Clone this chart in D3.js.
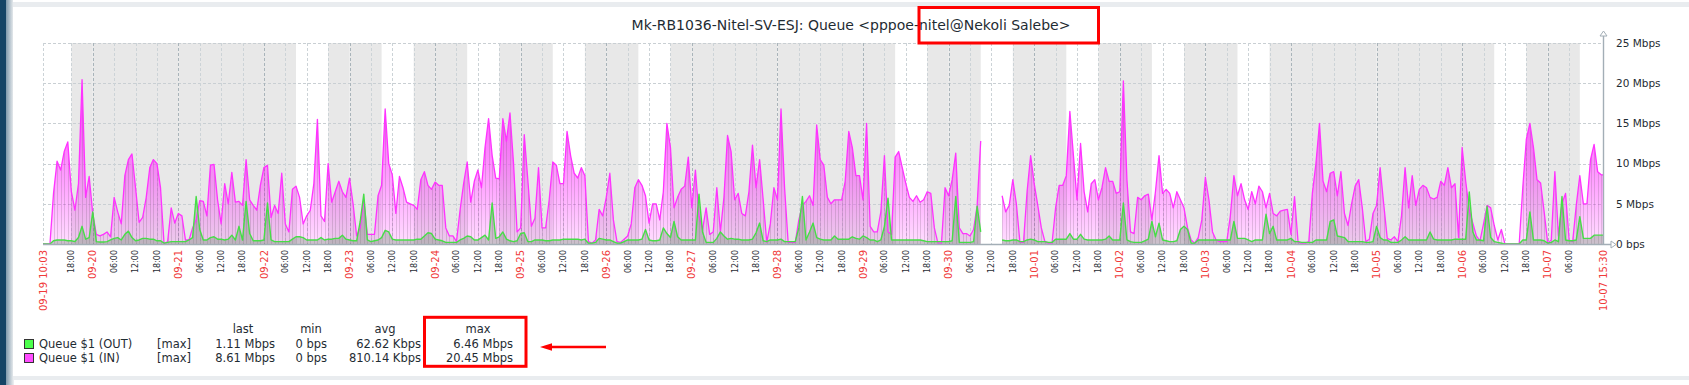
<!DOCTYPE html>
<html>
<head>
<meta charset="utf-8">
<script src="https://cdn.jsdelivr.net/npm/d3@7"></script>
<style>
  body { margin: 0; background: #e9ecef; }
  svg { display: block; font-family: 'DejaVu Sans', sans-serif; }
</style>
</head>
<body>
<svg id="chart" width="1689" height="385"></svg>
<script>
const chartTitle = 'Mk-RB1036-Nitel-SV-ESJ: Queue <pppoe-nitel@Nekoli Salebe>'
const startTime = '2025-09-19 10:03'
const endTime = '2025-10-07 15:30'
// one sample per hour from here on
const firstSample = '2025-09-19 10:00'

// Queue $1 (IN), Mbps, hourly
const inMbps = [
  0, 0, 0, 6.3, 10.3, 9.2, 11.5, 12.7, 6.5, 4.2,
  7.5, 20.45, 5.8, 8.4, 3.8, 1.2, 1.0, 1.2, 1.5, 0.9,
  5.8, 4.0, 2.5, 8.5, 10.5, 11.2, 7.0, 2.7, 3.3, 5.8,
  9.5, 10.5, 10.0, 7.0, 0.0, 0.3, 4.5, 2.6, 3.8, 3.5,
  0.5, 0.5, 2.0, 3.0, 5.4, 5.3, 3.5, 9.8, 9.9, 5.5,
  2.5, 7.5, 5.0, 8.9, 5.2, 5.3, 4.8, 10.5, 5.5, 4.8,
  4.2, 7.3, 9.5, 9.8, 3.3, 4.8, 3.8, 8.8, 2.5, 1.5,
  6.8, 7.2, 5.8, 2.5, 3.5, 4.2, 7.5, 15.5, 3.5, 2.8,
  10.0, 5.2, 6.5, 7.8, 6.5, 5.8, 8.2, 5.0, 1.0, 2.0,
  5.5, 1.2, 1.2, 1.2, 6.0, 7.3, 16.8, 10.0, 8.6, 3.8,
  8.4, 7.0, 5.2, 5.0, 4.8, 4.3, 8.0, 9.0, 7.3, 6.8,
  7.7, 7.3, 7.3, 2.0, 1.0, 1.0, 0.3, 4.2, 7.5, 10.2,
  5.2, 7.8, 9.2, 7.0, 12.0, 15.6, 11.0, 8.2, 8.1, 15.6,
  12.8, 16.3, 10.0, 1.5, 2.0, 13.6, 8.0, 2.2, 3.2, 9.5,
  2.0, 2.0, 5.5, 10.2, 9.8, 7.5, 7.5, 14.0, 11.0, 8.8,
  8.2, 9.5, 8.5, 0.3, 0.1, 0.5, 4.3, 3.5, 5.8, 8.8,
  3.0, 0.3, 0.2, 0.6, 1.0, 2.5, 7.0, 8.0, 7.3, 6.0,
  2.6, 5.0, 5.0, 3.0, 6.5, 15.0, 12.0, 4.5, 5.8, 6.8,
  7.2, 10.8, 4.5, 9.2, 3.5, 1.8, 4.5, 1.2, 1.5, 7.0,
  1.5, 5.8, 13.5, 11.5, 5.5, 6.3, 3.8, 3.5, 6.5, 12.3,
  7.0, 10.5, 5.5, 0.2, 2.5, 7.0, 5.5, 16.8, 7.0, 0.2,
  0.2, 0.2, 3.0, 4.8, 5.3, 6.0, 4.8, 14.8, 10.5, 9.8,
  5.8, 5.0, 5.5, 5.5, 5.5, 7.8, 14.0, 12.0, 8.5, 8.5,
  5.5, 15.0, 2.2, 1.5, 1.5, 4.0, 11.0, 1.5, 1.2, 10.8,
  11.5, 9.5, 7.5, 5.8, 5.3, 6.0, 5.2, 5.5, 6.5, 6.3,
  2.0, 0.1, 0.1, 7.0, 6.0, 8.0, 11.3, 2.0, 1.3, 1.3,
  1.0, 1.8, 4.8, 12.8, null, null, null, null, null, 6.0,
  4.0, 4.8, 8.0, 5.0, 0.2, 0.2, 6.5, 11.0, 7.5, 4.8,
  2.0, 0.3, 0.1, 0.1, 4.5, 7.3, 7.3, 8.5, 16.5, 11.0,
  5.5, 12.5, 6.5, 4.0, 7.5, 8.0, 5.5, 7.0, 9.5, 7.8,
  7.8, 6.3, 6.5, 20.3, 8.0, 1.5, 1.3, 5.8, 5.5, 6.0,
  6.2, 3.0, 6.5, 11.0, 6.3, 6.8, 6.3, 4.5, 6.5, 5.5,
  4.5, 2.0, 0.5, 0.1, 0.8, 3.0, 8.3, 5.5, 1.5, 0.5,
  0.3, 0.3, 0.3, 3.5, 8.5, 6.0, 7.5, 5.5, 4.3, 6.5,
  5.0, 7.2, 6.5, 4.5, 6.3, 3.8, 3.5, 4.1, 4.2, 4.3,
  1.2, 5.9, 0.2, 0.1, 0.1, 0.3, 6.3, 10.0, 15.0, 7.8,
  6.5, 8.8, 9.0, 6.0, 9.0, 3.8, 2.3, 5.0, 7.2, 8.0,
  4.5, 0.3, 0.6, 3.8, 4.8, 9.5, 5.0, 0.7, 0.5, 0.9,
  0.3, 3.5, 9.5, 4.5, 8.5, 4.8, 6.8, 7.3, 7.0, 5.8,
  5.6, 5.8, 7.8, 7.3, 9.5, 7.0, 7.5, 0.8, 12.0, 7.8,
  4.2, 2.6, 1.0, 0.4, 2.5, 4.8, 4.5, 2.3, 0.5, 1.8,
  0, 0, 0, 0, 0, 7.0, 13.0, 15.0, 12.0, 8.0,
  7.6, 4.0, 0.1, 0.5, 9.0, 1.0, 5.0, 6.3, 0.5, 0.3,
  4.8, 8.5, 5.0, 5.0, 10.5, 12.4, 9.0, 8.61,
]

// Queue $1 (OUT), Mbps, hourly
const outMbps = [
  0, 0, 0, 0.4, 0.5, 0.5, 0.5, 0.4, 0.4, 0.3,
  0.8, 2.2, 0.6, 0.8, 4.0, 0.3, 0.25, 0.25, 0.3, 0.5,
  0.7, 0.8, 0.5, 1.2, 1.6, 0.8, 0.4, 0.5, 0.7, 0.7,
  0.6, 0.6, 0.4, 0.4, 0.1, 0.2, 0.3, 0.3, 0.3, 0.3,
  0.3, 0.5, 0.8, 5.9, 1.8, 0.5, 0.5, 0.8, 0.9, 0.6,
  0.6, 0.5, 0.6, 1.1, 0.5, 2.2, 0.5, 5.3, 1.3, 0.4,
  0.4, 0.4, 0.5, 5.1, 0.5, 0.3, 0.3, 0.3, 0.3, 0.3,
  0.6, 0.9, 0.9, 0.8, 0.5, 0.5, 0.5, 0.5, 0.8, 0.5,
  0.6, 0.6, 0.7, 0.7, 1.1, 0.6, 0.5, 0.4, 0.4, 2.8,
  6.2, 0.5, 0.3, 0.4, 0.5, 0.8, 1.7, 1.5, 0.6, 0.5,
  0.5, 0.5, 0.5, 0.5, 0.5, 0.6, 0.6, 1.0, 1.4, 1.3,
  0.6, 0.5, 0.4, 0.2, 0.2, 0.2, 0.2, 0.5, 0.7, 1.0,
  0.9, 0.5, 0.5, 0.8, 1.1, 0.5, 5.1, 0.7, 0.9, 1.5,
  0.6, 0.4, 0.3, 0.4, 1.3, 1.4, 0.3, 0.3, 0.5, 0.5,
  0.5, 0.4, 0.4, 0.5, 0.5, 0.5, 0.6, 0.6, 0.6, 0.6,
  0.6, 0.5, 0.6, 0.1, 0.1, 0.2, 0.7, 0.6, 0.5, 0.5,
  0.3, 0.1, 0.1, 0.3, 0.5, 0.5, 0.5, 0.5, 0.6, 1.8,
  0.5, 0.4, 0.4, 0.5, 2.0, 1.3, 0.8, 2.8, 0.9, 0.5,
  0.5, 0.5, 0.5, 0.5, 6.2, 1.5, 0.2, 0.2, 0.2, 0.7,
  1.5, 1.0, 0.6, 0.7, 0.6, 0.6, 0.5, 0.5, 0.5, 0.6,
  1.4, 2.6, 0.4, 0.3, 0.5, 0.5, 0.5, 0.6, 0.3, 0.3,
  0.3, 0.3, 2.0, 5.9, 0.5, 1.5, 2.6, 0.8, 0.6, 0.5,
  0.5, 0.5, 1.0, 0.6, 0.6, 0.6, 0.6, 0.9, 0.7, 0.6,
  1.0, 0.8, 0.5, 0.5, 0.3, 0.5, 2.2, 5.7, 0.5, 0.5,
  0.5, 0.5, 0.5, 0.5, 0.5, 0.5, 0.5, 0.4, 0.3, 0.3,
  0.3, 0.3, 0.3, 0.3, 0.3, 0.4, 5.9, 0.2, 0.2, 0.2,
  0.2, 0.3, 4.7, 1.5, null, null, null, null, null, 0.5,
  0.4, 0.4, 0.5, 0.5, 0.3, 0.3, 0.5, 0.6, 0.5, 0.3,
  0.3, 0.3, 0.2, 0.2, 0.6, 0.6, 0.6, 0.6, 1.3, 0.6,
  0.6, 1.2, 0.6, 0.5, 0.5, 0.5, 0.5, 0.5, 0.6, 1.0,
  0.5, 0.5, 0.5, 5.1, 0.5, 0.3, 0.2, 0.2, 0.2, 0.4,
  0.6, 2.8, 0.9, 2.6, 0.5, 0.4, 0.3, 0.3, 0.4, 1.8,
  2.2, 1.8, 0.1, 0.1, 0.5, 0.5, 0.5, 0.5, 0.5, 0.5,
  0.5, 0.5, 0.5, 0.5, 2.8, 0.7, 0.7, 0.7, 0.5, 0.3,
  0.5, 0.5, 0.5, 3.7, 1.3, 2.2, 0.5, 0.5, 0.5, 0.5,
  0.7, 0.3, 0.3, 0.2, 0.2, 0.2, 0.2, 0.5, 0.5, 0.5,
  0.5, 2.8, 3.0, 1.0, 0.9, 0.8, 0.3, 0.3, 0.3, 0.3,
  0.3, 0.2, 0.2, 0.3, 2.2, 0.8, 0.5, 0.5, 0.2, 0.2,
  0.2, 0.5, 0.9, 0.5, 0.5, 0.5, 0.5, 0.5, 0.5, 1.5,
  0.6, 0.5, 0.5, 0.5, 0.5, 0.5, 0.6, 0.6, 0.6, 0.6,
  6.46, 1.5, 0.5, 0.5, 0.4, 4.7, 0.8, 0.3, 0.2, 0.1,
  0, 0, 0, 0, 0, 0.5, 0.5, 4.0, 0.5, 0.5,
  0.5, 0.4, 0.1, 0.2, 0.5, 0.3, 5.9, 0.5, 0.4, 0.4,
  0.5, 3.4, 0.7, 0.7, 0.7, 1.1, 1.1, 1.11,
]

const yTicks = [0, 5, 10, 15, 20, 25]
const yTickLabels = ['0 bps', '5 Mbps', '10 Mbps', '15 Mbps', '20 Mbps', '25 Mbps']

// working time: Mon-Fri 09:00-18:00, the rest is shaded
const workDays = [1, 2, 3, 4, 5]
const workHours = [9, 18]

const legendNames = ['Queue $1 (OUT)', 'Queue $1 (IN)']
const legendFunc = ['[max]', '[max]']
const legendLast = ['1.11 Mbps', '8.61 Mbps']
const legendMin = ['0 bps', '0 bps']
const legendAvg = ['62.62 Kbps', '810.14 Kbps']
const legendMax = ['6.46 Mbps', '20.45 Mbps']
const legendColors = ['#4cff4c', '#ff4cff']

const textColor = '#1f2c33'
const redColor = '#f03a3a'

const svg = d3.select('#chart')
const parse = d3.utcParse('%Y-%m-%d %H:%M')
const t0 = parse(startTime)
const t1 = parse(endTime)
const tFirst = parse(firstSample)

const plot = { left: 43, right: 1603, top: 43, bottom: 244 }

const x = d3.scaleUtc().domain([t0, t1]).range([plot.left, plot.right])
const y = d3.scaleLinear().domain([0, 25]).range([plot.bottom, plot.top])

// page frame
svg.append('rect').attr('x', 13).attr('y', 0).attr('width', 1676).attr('height', 2).attr('fill', '#fff')
svg.append('rect').attr('x', 13).attr('y', 7).attr('width', 1676).attr('height', 369).attr('fill', '#fff')
svg.append('rect').attr('x', 14).attr('y', 380).attr('width', 1675).attr('height', 5).attr('fill', '#fff')
const defs = svg.append('defs')
const side = defs.append('linearGradient').attr('id', 'side')
side.append('stop').attr('offset', 0).attr('stop-color', '#7f99ac')
side.append('stop').attr('offset', 1).attr('stop-color', '#e4e8eb')
svg.append('rect').attr('x', 0).attr('y', 0).attr('width', 6).attr('height', 385).attr('fill', '#154466')
svg.append('rect').attr('x', 6).attr('y', 0).attr('width', 7).attr('height', 385).attr('fill', 'url(#side)')

// title
svg.append('text')
  .attr('x', 851).attr('y', 30)
  .attr('text-anchor', 'middle')
  .attr('font-size', '14px')
  .attr('fill', textColor)
  .text(chartTitle)

// non-working time shading
const shade = []
d3.utcDay.range(d3.utcDay.floor(t0), t1).forEach((day) => {
  if (workDays.includes(day.getUTCDay())) {
    shade.push([day, d3.utcHour.offset(day, workHours[0])])
    shade.push([d3.utcHour.offset(day, workHours[1]), d3.utcDay.offset(day, 1)])
  } else {
    shade.push([day, d3.utcDay.offset(day, 1)])
  }
})
svg.append('g')
  .selectAll('rect')
  .data(shade.filter((s) => s[1] > t0 && s[0] < t1))
  .enter()
  .append('rect')
  .attr('x', (d) => x(d[0] < t0 ? t0 : d[0]))
  .attr('width', (d) => x(d[1] > t1 ? t1 : d[1]) - x(d[0] < t0 ? t0 : d[0]))
  .attr('y', plot.top)
  .attr('height', plot.bottom - plot.top)
  .attr('fill', '#e8e8e8')

// grid
const xTicks = d3.utcHour.every(6).range(t0, t1)
  .filter((t) => x(t) - plot.left > 14 && plot.right - x(t) > 14)
const isDay = (t) => t.getUTCHours() === 0

const grid = svg.append('g').attr('stroke-dasharray', '3,2').attr('stroke-width', 1)
grid.selectAll('line.h')
  .data(yTicks)
  .enter()
  .append('line')
  .attr('x1', plot.left).attr('x2', plot.right)
  .attr('y1', (d) => Math.round(y(d)) + 0.5).attr('y2', (d) => Math.round(y(d)) + 0.5)
  .attr('stroke', '#c9cfd3')
grid.selectAll('line.v')
  .data([t0].concat(xTicks))
  .enter()
  .append('line')
  .attr('x1', (d) => Math.round(x(d)) + 0.5).attr('x2', (d) => Math.round(x(d)) + 0.5)
  .attr('y1', plot.top).attr('y2', plot.bottom)
  .attr('stroke', (d) => (isDay(d) ? '#a9b4ba' : '#ccd3d7'))

// series
const toPoints = (values) => {
  const pts = values.map((v, i) => ({ t: d3.utcHour.offset(tFirst, i), v: v }))
  pts.push({ t: t1, v: values[values.length - 1] })
  return pts
}
const inPoints = toPoints(inMbps)
const outPoints = toPoints(outMbps)

defs.append('clipPath').attr('id', 'plotClip')
  .append('rect')
  .attr('x', plot.left).attr('y', plot.top - 5)
  .attr('width', plot.right - plot.left).attr('height', plot.bottom - plot.top + 5)

function gradient(id, color, lo, hi) {
  const g = defs.append('linearGradient').attr('id', id)
    .attr('gradientUnits', 'userSpaceOnUse')
    .attr('x1', 0).attr('x2', 0).attr('y1', y(0)).attr('y2', y(21))
  g.append('stop').attr('offset', 0).attr('stop-color', color).attr('stop-opacity', lo)
  g.append('stop').attr('offset', 1).attr('stop-color', color).attr('stop-opacity', hi)
}
gradient('inFill', '#ff33ff', 0.16, 0.97)
gradient('outFill', '#6b8a6b', 0.35, 0.55)

const area = d3.area()
  .defined((d) => d.v != null)
  .x((d) => x(d.t))
  .y0(y(0))
  .y1((d) => y(d.v))
const line = d3.line()
  .defined((d) => d.v != null)
  .x((d) => x(d.t))
  .y((d) => y(d.v))

const data = svg.append('g').attr('clip-path', 'url(#plotClip)')

data.append('path').attr('d', area(inPoints)).attr('fill', 'url(#inFill)')

// the fine vertical seams between hourly columns
defs.append('clipPath').attr('id', 'inClip').append('path').attr('d', area(inPoints))
data.append('g')
  .attr('clip-path', 'url(#inClip)')
  .selectAll('line')
  .data(inPoints)
  .enter()
  .append('line')
  .attr('x1', (d) => Math.round(x(d.t)) + 0.5).attr('x2', (d) => Math.round(x(d.t)) + 0.5)
  .attr('y1', plot.top).attr('y2', plot.bottom)
  .attr('stroke', 'rgba(110,90,110,0.22)')

data.append('path').attr('d', area(outPoints)).attr('fill', 'url(#outFill)')

data.append('path').attr('d', line(inPoints))
  .attr('fill', 'none').attr('stroke', '#ff33ff').attr('stroke-width', 1.3)
  .attr('stroke-linejoin', 'round')
data.append('path').attr('d', line(outPoints))
  .attr('fill', 'none').attr('stroke', '#47dd47').attr('stroke-width', 1.4)
  .attr('stroke-linejoin', 'round')

// axes
const axisColor = '#a3aeb6'
svg.append('line')
  .attr('x1', plot.left).attr('x2', plot.right + 8)
  .attr('y1', plot.bottom + 0.5).attr('y2', plot.bottom + 0.5)
  .attr('stroke', axisColor).attr('stroke-width', 1.6)
svg.append('line')
  .attr('x1', plot.right + 0.5).attr('x2', plot.right + 0.5)
  .attr('y1', plot.bottom).attr('y2', plot.top - 8)
  .attr('stroke', axisColor).attr('stroke-width', 1.4)
svg.append('path')
  .attr('d', `M${plot.right + 8},${plot.bottom - 3} L${plot.right + 13},${plot.bottom + 0.5} L${plot.right + 8},${plot.bottom + 4} Z`)
  .attr('fill', '#fff').attr('stroke', axisColor)
svg.append('path')
  .attr('d', `M${plot.right - 3},${plot.top - 7} L${plot.right + 0.5},${plot.top - 12} L${plot.right + 4},${plot.top - 7} Z`)
  .attr('fill', '#fff').attr('stroke', axisColor)

svg.append('g')
  .selectAll('text')
  .data(yTicks)
  .enter()
  .append('text')
  .attr('x', 1616)
  .attr('y', (d) => y(d))
  .attr('dy', '0.36em')
  .attr('font-size', '10.5px')
  .attr('fill', textColor)
  .text((d, i) => yTickLabels[i])

// x labels, rotated
const fmtDay = d3.utcFormat('%m-%d')
const fmtHour = d3.utcFormat('%H:%M')
const fmtFull = d3.utcFormat('%m-%d %H:%M')
const xLabels = [{ t: t0, text: fmtFull(t0), red: true }]
  .concat(xTicks.map((t) => ({ t: t, text: isDay(t) ? fmtDay(t) : fmtHour(t), red: isDay(t) })))
  .concat([{ t: t1, text: fmtFull(t1), red: true }])
svg.append('g')
  .selectAll('text')
  .data(xLabels)
  .enter()
  .append('text')
  .attr('transform', (d) => `translate(${x(d.t)},250) rotate(-90)`)
  .attr('text-anchor', 'end')
  .attr('dy', '0.36em')
  .attr('font-size', (d) => (d.red ? '10px' : '8px'))
  .attr('fill', (d) => (d.red ? redColor : textColor))
  .text((d) => d.text)

// legend
const legend = svg.append('g').attr('font-size', '11.5px').attr('fill', textColor)
const headers = [['last', 243], ['min', 311], ['avg', 385], ['max', 478]]
legend.selectAll('text.head')
  .data(headers)
  .enter()
  .append('text')
  .attr('x', (d) => d[1]).attr('y', 333)
  .attr('text-anchor', 'middle')
  .text((d) => d[0])
legendNames.forEach((name, i) => {
  const ty = 348 + i * 14
  legend.append('rect')
    .attr('x', 24.5).attr('y', ty - 8.5)
    .attr('width', 9).attr('height', 9)
    .attr('fill', legendColors[i]).attr('stroke', '#333')
  legend.append('text').attr('x', 39).attr('y', ty).text(name)
  legend.append('text').attr('x', 157).attr('y', ty).text(legendFunc[i])
  const cols = [[legendLast[i], 275], [legendMin[i], 327], [legendAvg[i], 421], [legendMax[i], 513]]
  cols.forEach((c) => {
    legend.append('text').attr('x', c[1]).attr('y', ty).attr('text-anchor', 'end').text(c[0])
  })
})

// red annotations
const red = '#ff0000'
svg.append('rect')
  .attr('x', 919).attr('y', 7.5).attr('width', 179.5).attr('height', 35.5)
  .attr('fill', 'none').attr('stroke', red).attr('stroke-width', 3)
svg.append('rect')
  .attr('x', 424.5).attr('y', 317.3).attr('width', 101.5).attr('height', 49)
  .attr('fill', 'none').attr('stroke', red).attr('stroke-width', 3)
svg.append('line')
  .attr('x1', 550).attr('x2', 606).attr('y1', 347).attr('y2', 347)
  .attr('stroke', red).attr('stroke-width', 2.5)
svg.append('path')
  .attr('d', 'M540,347 L552,343.3 L552,350.7 Z')
  .attr('fill', red)
</script>
</body>
</html>
